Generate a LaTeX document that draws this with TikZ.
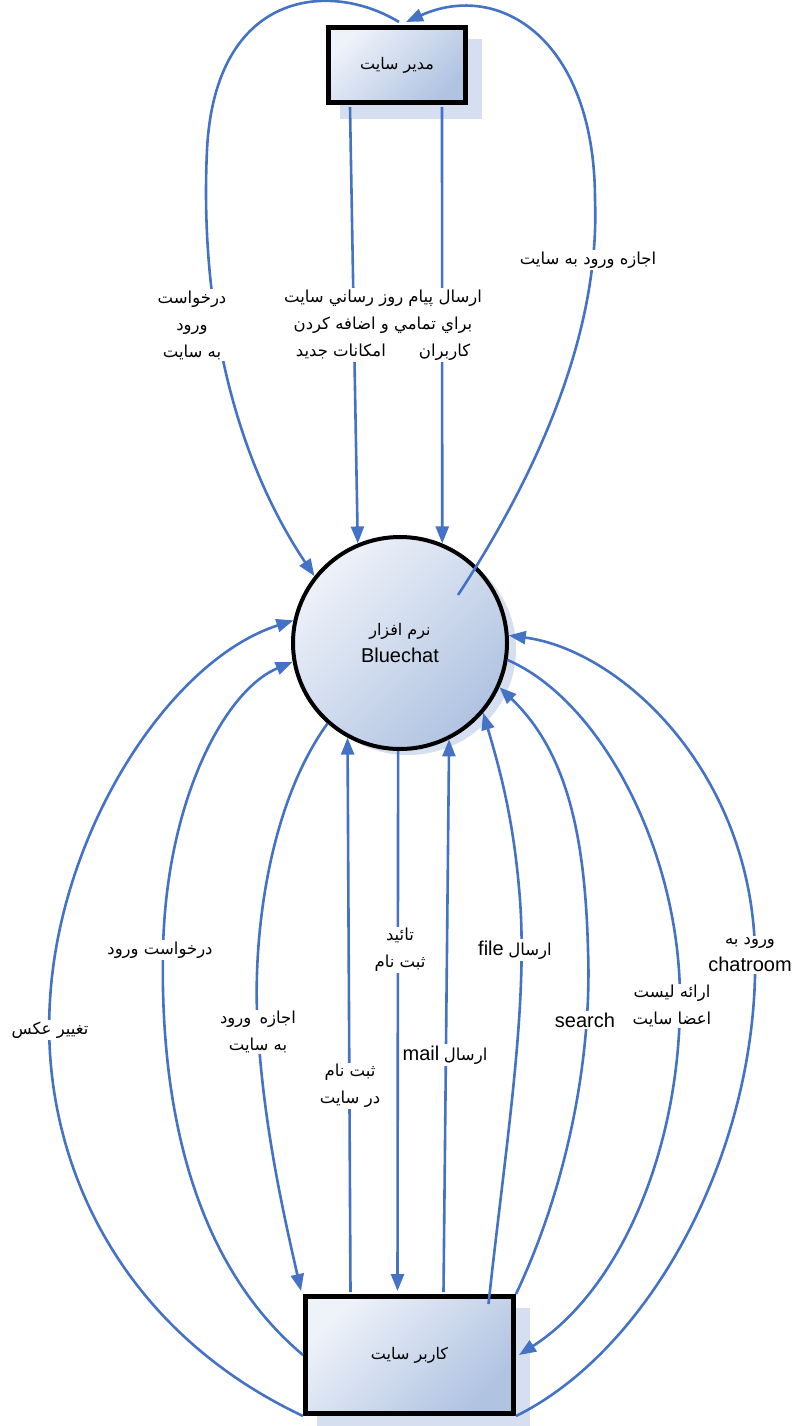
\documentclass[tikz,border=0pt]{standalone}
\usepackage{fontspec}
\setmainfont{Liberation Sans}
\newfontfamily\arfont[Script=Arabic]{DejaVu Sans}
\TeXXeTstate=1
\usetikzlibrary{arrows.meta,shapes.geometric,calc}
\definecolor{flowc}{HTML}{4472C4}
\definecolor{boxlight}{HTML}{EEF2F9}
\definecolor{boxdark}{HTML}{B0C3E1}
\definecolor{shadowc}{HTML}{D5DFEF}
\newcommand{\ar}[1]{{\arfont\beginR #1\endR}}
\newcommand{\lat}[1]{{\fontsize{20}{27}\selectfont #1}}
\begin{document}
\begin{tikzpicture}[x=1pt,y=-1pt,
  flow/.style={draw=flowc,line width=2.6pt},
  arr/.style={-{Triangle[length=17pt,width=13pt]}},
  entity/.style={rectangle,draw=black,line width=5pt,left color=boxlight,right color=boxdark,shading angle=45,inner sep=0pt,font=\fontsize{16}{20}\selectfont},
  proc/.style={ellipse,draw=black,line width=4pt,left color=boxlight,right color=boxdark,shading angle=45,inner sep=0pt,align=center,font=\fontsize{16}{27}\selectfont},
  lbl/.style={fill=white,inner sep=1.5pt,align=center,font=\fontsize{16.5}{27}\selectfont}]
\useasboundingbox (0,0) rectangle (795,1426);
% shadows
\fill[shadowc] (340,39) rectangle (482,119);
\fill[shadowc] (317,1308) rectangle (530,1430);
\fill[shadowc] (408,649) ellipse [x radius=108pt, y radius=106pt];
% nodes
\node[entity,minimum width=137pt,minimum height=75pt] (admin) at (397,65) {\ar{مدير سايت}};
\node[proc,minimum width=214pt,minimum height=212pt] (bc) at (400,643) {\ar{نرم افزار}\\\lat{Bluechat}};
\node[entity,minimum width=208pt,minimum height=117pt] (user) at (409.5,1355) {\ar{کاربر سايت}};
\coordinate (e2s) at (458,595);
% top connectors
\draw[flow,arr] ($(admin.north)+(2,-3)$) .. controls (330,-20) and (215,-10) .. (207,150) .. controls (200,300) and (230,450) .. (bc.142);
\draw[flow,arr] (e2s) .. controls (540,470) and (600,330) .. (595,200) .. controls (595,40) and (500,-20) .. ($(admin.north)+(9,-3)$);
\draw[flow,arr] ($(admin.south)+(-47,2)$) -- (bc.113);
\draw[flow,arr] ($(admin.south)+(45,2)$) -- (bc.67);
% bottom connectors
\draw[flow,arr] (user.south west) .. controls (120,1330) and (40,1160) .. (50,1000) .. controls (60,830) and (170,660) .. (bc.168);
\draw[flow,arr] (user.west) .. controls (190,1260) and (160,1100) .. (163,950) .. controls (166,800) and (225,690) .. (bc.190);
\draw[flow,arr] (bc.228) .. controls (265,810) and (252,950) .. (258,1030) .. controls (264,1130) and (285,1220) .. ($(user.north west)+(-2,-3)$);
\draw[flow,arr] ($(user.north)+(-59,-2)$) -- (bc.241);
\draw[flow,arr] (bc.269) -- ($(user.north)+(-12,-3)$);
\draw[flow,arr] ($(user.north)+(34,-2)$) -- (bc.297);
\draw[flow,arr] ($(user.north)+(79,10)$) .. controls (505,1150) and (528,1010) .. (520,900) .. controls (514,820) and (500,770) .. (bc.320);
\draw[flow,arr] (user.north east) .. controls (570,1180) and (592,1050) .. (588,950) .. controls (585,830) and (565,750) .. (bc.336);
\draw[flow,arr] (bc.351) .. controls (600,700) and (680,850) .. (680,1000) .. controls (680,1150) and (620,1290) .. ($(user.east)+(3,0)$);
\draw[flow,arr] (user.south east) .. controls (650,1350) and (760,1150) .. (755,950) .. controls (750,770) and (620,650) .. (bc.4);
% labels
\node[lbl] (l1) at (192,325) {\ar{درخواست}\\\ar{ورود}\\\ar{به سايت}};
\node[lbl] (l2) at (383,325) {\ar{ارسال پيام روز رساني سايت}\\\ar{براي تمامي و اضافه کردن}\\\ar{کاربران\hspace{2em}امکانات جديد}};
\node[lbl] (l3) at (588,260) {\ar{اجازه ورود به سايت}};
\node[lbl] (l4) at (50,1030) {\ar{تغيير عکس}};
\node[lbl] (l5) at (160,950) {\ar{درخواست ورود}};
\node[lbl] (l6) at (258,1032) {\ar{اجازه\hspace{0.5em}ورود}\\\ar{به سايت}};
\node[lbl] (l7) at (350,1086) {\ar{ثبت نام}\\\ar{در سايت}};
\node[lbl] (l8) at (400,950) {\ar{تائيد}\\\ar{ثبت نام}};
\node[lbl] (l9) at (445,1055) {\lat{mail} \ar{ارسال}};
\node[lbl] (l10) at (515,950) {\lat{file} \ar{ارسال}};
\node[lbl] (l11) at (585,1020) {\lat{search}};
\node[lbl] (l12) at (672,1006) {\ar{ارائه ليست}\\\ar{اعضا سايت}};
\node[lbl] (l13) at (750,955) {\ar{ورود به}\\\lat{chatroom}};
\end{tikzpicture}
\end{document}
